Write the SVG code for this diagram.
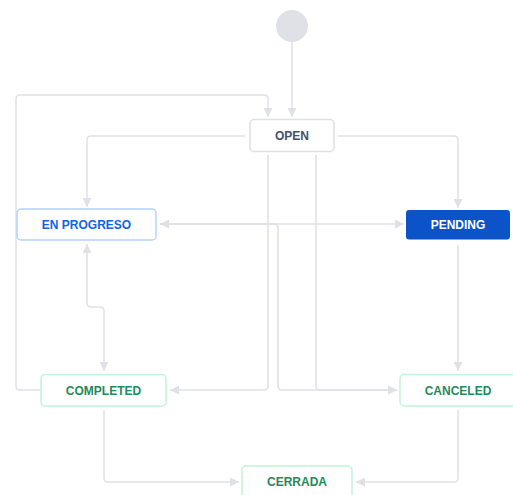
<svg xmlns="http://www.w3.org/2000/svg" width="513" height="495" viewBox="0 0 513 495">
<defs>
<marker id="ah" viewBox="0 0 9 9" refX="9" refY="4.5" markerWidth="9" markerHeight="9" markerUnits="userSpaceOnUse" orient="auto-start-reverse">
<path d="M0,0 L9,4.5 L0,9 z" fill="#dfe1e6"/>
</marker>
</defs>
<style>
.c{fill:none;stroke:#dfe1e6;stroke-width:1.5}
.t{font-family:"Liberation Sans",Arial,sans-serif;font-size:12px;font-weight:bold;text-anchor:middle;dominant-baseline:central}
.g rect{fill:#fff;stroke:#c1f4da;stroke-width:1.5}
.g text{fill:#1f8a5b}
</style>
<rect width="513" height="495" fill="#fff"/>
<g id="connectors">
<path class="c" d="M292,42 V117" marker-end="url(#ah)"/>
<path class="c" d="M40,390 H20 Q16,390 16,386 V99 Q16,95 20,95 H264 Q268,95 268,99 V117" marker-end="url(#ah)"/>
<path class="c" d="M245,136 H91 Q87,136 87,140 V207" marker-end="url(#ah)"/>
<path class="c" d="M338,136 H454 Q458,136 458,140 V208" marker-end="url(#ah)"/>
<path class="c" d="M160,224 H404" marker-start="url(#ah)" marker-end="url(#ah)"/>
<path class="c" d="M160,224 H274 Q278,224 278,228 V386 Q278,390 282,390 H397" marker-end="url(#ah)"/>
<path class="c" d="M268,155 V386 Q268,390 264,390 H170" marker-end="url(#ah)"/>
<path class="c" d="M316,155 V386 Q316,390 320,390 H397" marker-end="url(#ah)"/>
<path class="c" d="M87,244 V303 Q87,307 91,307 H100 Q104,307 104,311 V371" marker-start="url(#ah)" marker-end="url(#ah)"/>
<path class="c" d="M458,245 V371" marker-end="url(#ah)"/>
<path class="c" d="M104,410 V478 Q104,482 108,482 H239" marker-end="url(#ah)"/>
<path class="c" d="M458,410 V478 Q458,482 454,482 H356" marker-end="url(#ah)"/>
</g>
<g id="start"><circle cx="292" cy="26" r="16" fill="#dfe1e6"/></g>
<g id="open">
<rect x="250" y="119.5" width="84" height="32" rx="4" fill="#fff" stroke="#dfe1e6" stroke-width="1.5"/>
<text class="t" x="292" y="136" fill="#42526e">OPEN</text>
</g>
<g id="enprogreso">
<rect x="17" y="209" width="139" height="31" rx="4" fill="#fff" stroke="#b3d4ff" stroke-width="1.5"/>
<text class="t" x="86.5" y="224.5" fill="#0c66e4">EN PROGRESO</text>
</g>
<g id="pending">
<rect x="406" y="210" width="104" height="29.5" rx="3" fill="#0c52c9"/>
<text class="t" x="458" y="224.5" fill="#fff">PENDING</text>
</g>
<g id="completed" class="g">
<rect x="41" y="374.5" width="125" height="31.5" rx="4"/>
<text class="t" x="103.5" y="390.5">COMPLETED</text>
</g>
<g id="canceled" class="g">
<rect x="400" y="374.5" width="118" height="31.5" rx="4"/>
<text class="t" x="458" y="390.5">CANCELED</text>
</g>
<g id="cerrada" class="g">
<rect x="242" y="466" width="110" height="35" rx="4"/>
<text class="t" x="297" y="482">CERRADA</text>
</g>
</svg>
